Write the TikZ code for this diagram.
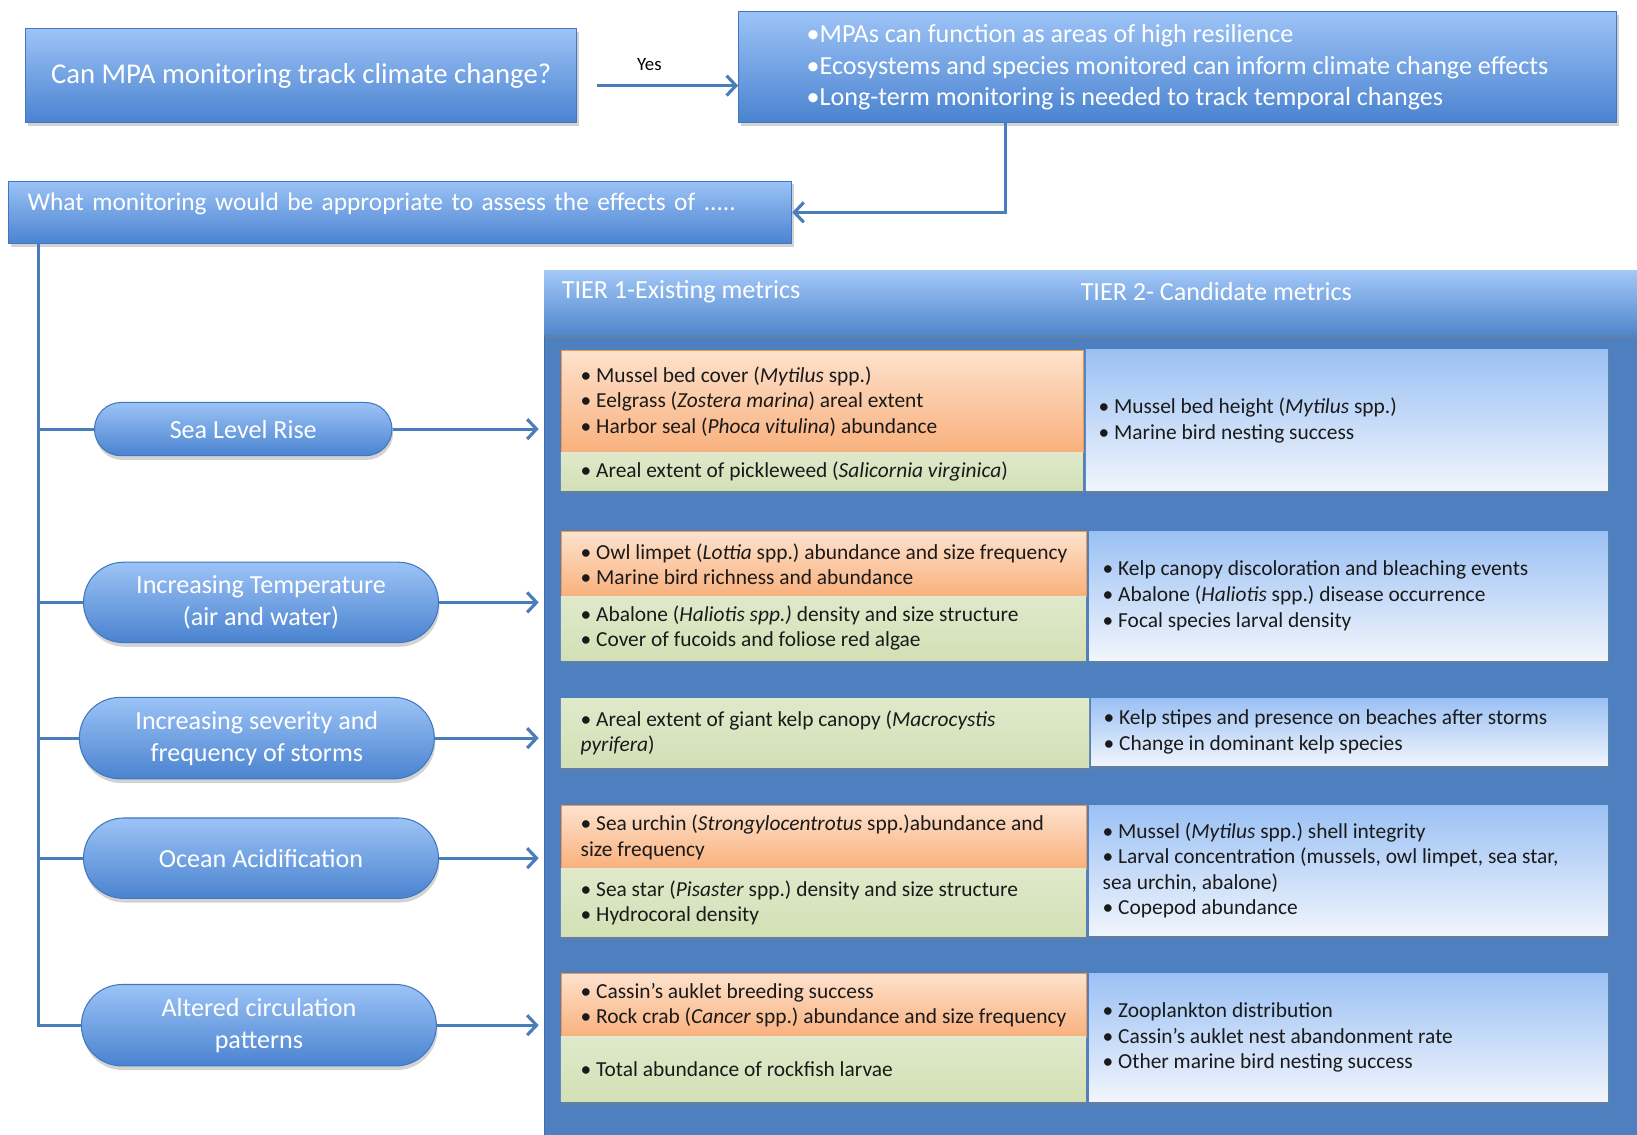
\documentclass[tikz,border=0pt]{standalone}
\usepackage{fontspec}
\setmainfont{Carlito}
\usetikzlibrary{arrows.meta,shapes.misc,shadows}
\definecolor{bxTop}{HTML}{9CC3F6}
\definecolor{bxBot}{HTML}{4A83D0}
\definecolor{bxDraw}{HTML}{4177C0}
\definecolor{lineB}{HTML}{4A7EBB}
\definecolor{panelB}{HTML}{4E80BF}
\definecolor{panelD}{HTML}{3F6EAC}
\definecolor{hdTop}{HTML}{A3C7F8}
\definecolor{hdBot}{HTML}{5088CC}
\definecolor{orTop}{HTML}{FDE2CD}
\definecolor{orBot}{HTML}{F9B07C}
\definecolor{orEdge}{HTML}{F79646}
\definecolor{grTop}{HTML}{DFE9CB}
\definecolor{grBot}{HTML}{D3E0B5}
\definecolor{rtTop}{HTML}{9BC1F4}
\definecolor{rtBot}{HTML}{F1F5FC}
\definecolor{txtC}{HTML}{1A1A1A}
\newcommand\fbigq{\fontsize{27.5}{30}\selectfont}
\newcommand\fmidq{\fontsize{25}{30.5}\selectfont}
\newcommand\fwmq{\fontsize{24.3}{30}\selectfont}
\newcommand\fcellq{\fontsize{20.5}{24.5}\selectfont}
\frenchspacing
\begin{document}
\frenchspacing
\begin{tikzpicture}[x=1pt,y=-1pt,
  bluebox/.style={anchor=north west, top color=bxTop, bottom color=bxBot, draw=bxDraw, line width=0.8pt,
    text=white, drop shadow={shadow xshift=2pt, shadow yshift=-3pt, opacity=0.35}},
  capsule/.style={rounded rectangle, top color=bxTop, bottom color=bxBot, draw=bxDraw, line width=1pt,
    text=white, font=\fmidq, align=center, inner sep=0pt,
    drop shadow={shadow xshift=1pt, shadow yshift=-4pt, opacity=0.35}},
  link/.style={draw=lineB, line width=3pt},
  conn/.style={link, -{Straight Barb[length=9pt,width=19pt]}},
  cellbase/.style={anchor=north west, inner sep=0pt,
    drop shadow={shadow xshift=1pt, shadow yshift=-3pt, opacity=0.4}},
  orcell/.style={cellbase, top color=orTop, bottom color=orBot, draw=orEdge, line width=0.8pt},
  grcell/.style={cellbase, top color=grTop, bottom color=grBot},
  rtcell/.style={cellbase, top color=rtTop, bottom color=rtBot},
  ctext/.style={anchor=west, inner sep=0pt, align=left, font=\fcellq, text=txtC},
  hdtext/.style={anchor=west, inner sep=0pt, text=white, font=\fmidq}
]
\useasboundingbox (0,0) rectangle (1568,1087);

% top boxes
\node[bluebox, minimum width=528pt, minimum height=90pt, font=\fbigq] (q) at (24,27) {Can MPA monitoring track climate change?};
\node[bluebox, minimum width=841pt, minimum height=106pt, font=\fmidq, align=left] (facts) at (707,11)
  {•MPAs can function as areas of high resilience\\
   •Ecosystems and species monitored can inform climate change effects\\
   •Long-term monitoring is needed to track temporal changes};
\node[bluebox, minimum width=750pt, minimum height=60pt, font=\fwmq, align=left, text width=714pt,
  inner xsep=18pt, text height=16pt, text depth=19pt] (wm) at (8,173)
  {What monitoring would be appropriate to assess the effects of .....};

\node[font=\fontsize{18}{20}\selectfont, text=black, inner sep=0pt] (yes) at (622,62) {Yes};
\coordinate (ya) at (572,82);
\draw[conn] (ya) -- (ya -| facts.west);
\coordinate (f1) at (963,117);
\draw[conn] (f1) |- (wm.east);

% panel
\node[anchor=north west, fill=panelB, draw=panelD, line width=1pt, minimum width=1047pt, minimum height=830pt, inner sep=0pt] (P) at (521,259) {};
\node[anchor=north west, top color=hdTop, bottom color=hdBot, minimum width=1047pt, minimum height=61pt, inner sep=0pt,
  drop shadow={shadow xshift=0pt, shadow yshift=-4pt, opacity=0.35}] (H) at (521,259) {};
\node[hdtext] (h1) at (538,279) {TIER 1-Existing metrics};
\node[hdtext] (h2) at (1035,279) {TIER 2- Candidate metrics};

% capsules
\node[capsule, minimum width=285pt, minimum height=51pt] (e1) at (233,411) {Sea Level Rise};
\node[capsule, minimum width=340pt, minimum height=77pt] (e2) at (250,577) {Increasing Temperature\\(air and water)};
\node[capsule, minimum width=340pt, minimum height=78pt] (e3) at (246,707) {Increasing severity and\\frequency of storms};
\node[capsule, minimum width=340pt, minimum height=77pt] (e4) at (250,822) {Ocean Acidification};
\node[capsule, minimum width=340pt, minimum height=78pt] (e5) at (248,982) {Altered circulation\\patterns};

% tree
\coordinate (t0) at (37,233);
\draw[link] (t0) |- (e5.west);
\foreach \e in {e1,e2,e3,e4} { \draw[link] (t0 |- \e.west) -- (\e.west); }
\foreach \e in {e1,e2,e3,e4,e5} { \draw[conn, shorten >=5pt] (\e.east) -- (\e.east -| P.west); }

% cells
\node[orcell, minimum width=500pt, minimum height=98pt] (o1) at (537,335) {};
\node[grcell, minimum width=500pt, minimum height=37pt] (g1) at (537,433) {};
\node[rtcell, minimum width=500pt, minimum height=135pt] (r1) at (1040,335) {};
\node[orcell, minimum width=503pt, minimum height=62pt] (o2) at (537,509) {};
\node[grcell, minimum width=503pt, minimum height=61pt] (g2) at (537,571) {};
\node[rtcell, minimum width=497pt, minimum height=123pt] (r2) at (1043,509) {};
\node[grcell, minimum width=506pt, minimum height=66pt] (g3) at (537,669) {};
\node[rtcell, minimum width=495pt, minimum height=64pt] (r3) at (1045,669) {};
\node[orcell, minimum width=503pt, minimum height=61pt] (o4) at (537,771) {};
\node[grcell, minimum width=503pt, minimum height=65pt] (g4) at (537,832) {};
\node[rtcell, minimum width=497pt, minimum height=125pt] (r4) at (1043,771) {};
\node[orcell, minimum width=503pt, minimum height=61pt] (o5) at (537,932) {};
\node[grcell, minimum width=503pt, minimum height=62pt] (g5) at (537,993) {};
\node[rtcell, minimum width=497pt, minimum height=123pt] (r5) at (1043,932) {};

% cell texts
\node[ctext] (o1t) at ([xshift=19pt]o1.west)
  {• Mussel bed cover (\textit{Mytilus} spp.)\\• Eelgrass (\textit{Zostera marina}) areal extent\\• Harbor seal (\textit{Phoca vitulina}) abundance};
\node[ctext] (g1t) at ([xshift=19pt]g1.west)
  {• Areal extent of pickleweed (\textit{Salicornia virginica})};
\node[ctext] (r1t) at ([xshift=12pt]r1.west)
  {• Mussel bed height (\textit{Mytilus} spp.)\\• Marine bird nesting success};
\node[ctext] (o2t) at ([xshift=19pt]o2.west)
  {• Owl limpet (\textit{Lottia} spp.) abundance and size frequency\\• Marine bird richness and abundance};
\node[ctext] (g2t) at ([xshift=19pt]g2.west)
  {• Abalone (\textit{Haliotis spp.)} density and size structure\\• Cover of fucoids and foliose red algae};
\node[ctext] (r2t) at ([xshift=13pt]r2.west)
  {• Kelp canopy discoloration and bleaching events\\• Abalone (\textit{Haliotis} spp.) disease occurrence\\• Focal species larval density};
\node[ctext] (g3t) at ([xshift=19pt]g3.west)
  {• Areal extent of giant kelp canopy (\textit{Macrocystis}\\\textit{pyrifera})};
\node[ctext] (r3t) at ([xshift=12pt]r3.west)
  {• Kelp stipes and presence on beaches after storms\\• Change in dominant kelp species};
\node[ctext] (o4t) at ([xshift=19pt]o4.west)
  {• Sea urchin (\textit{Strongylocentrotus} spp.)abundance and\\size frequency};
\node[ctext] (g4t) at ([xshift=19pt]g4.west)
  {• Sea star (\textit{Pisaster} spp.) density and size structure\\• Hydrocoral density};
\node[ctext] (r4t) at ([xshift=13pt]r4.west)
  {• Mussel (\textit{Mytilus} spp.) shell integrity\\• Larval concentration (mussels, owl limpet, sea star,\\sea urchin, abalone)\\• Copepod abundance};
\node[ctext] (o5t) at ([xshift=19pt]o5.west)
  {• Cassin’s auklet breeding success\\• Rock crab (\textit{Cancer} spp.) abundance and size frequency};
\node[ctext] (g5t) at ([xshift=19pt]g5.west)
  {• Total abundance of rockfish larvae};
\node[ctext] (r5t) at ([xshift=13pt]r5.west)
  {• Zooplankton distribution\\• Cassin’s auklet nest abandonment rate\\• Other marine bird nesting success};
\end{tikzpicture}
\end{document}
